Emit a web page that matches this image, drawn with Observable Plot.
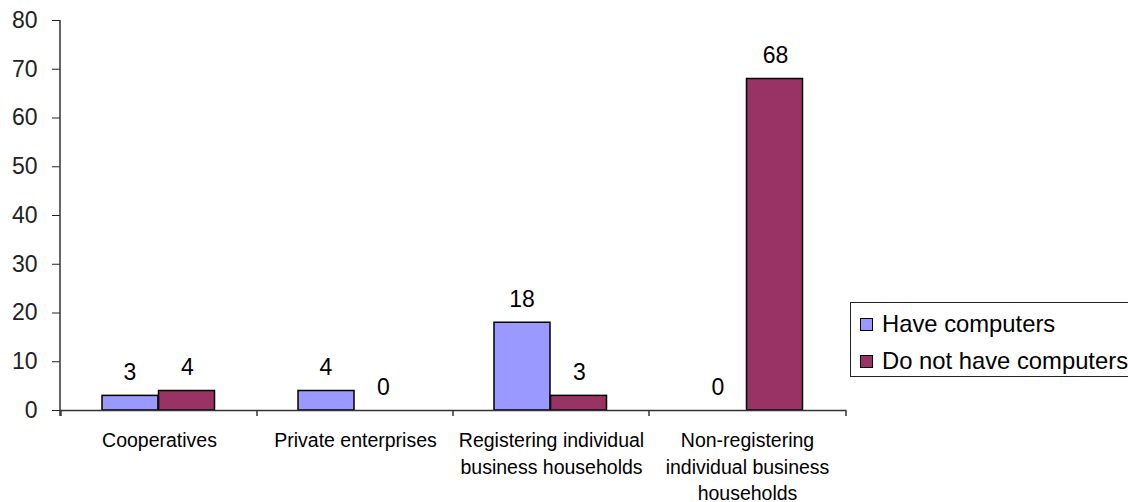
<!DOCTYPE html>
<html><head><meta charset="utf-8">
<script src="https://cdn.jsdelivr.net/npm/d3@7"></script>
<script src="https://cdn.jsdelivr.net/npm/@observablehq/plot@0.6"></script>
<style>
html,body{margin:0;padding:0;background:#fff;overflow:hidden}
#wrap{position:relative;width:1128px;height:502px;font-family:"Liberation Sans",Arial,sans-serif}
#legend{position:absolute;left:850px;top:302px;width:300px;height:75px;border:1.5px solid #222;box-sizing:border-box;background:#fff;font-size:23.8px;color:#000}
#legend .item{position:absolute;left:9px;display:flex;align-items:center;white-space:nowrap}
#legend .sw{width:13px;height:13px;border:1px solid #000;margin-right:9px;box-sizing:border-box}
</style></head>
<body><div id="wrap"></div>
<script>
const categories = ["Cooperatives", "Private enterprises", "Registering individual\nbusiness households", "Non-registering\nindividual business\nhouseholds"];
const seriesNames = ["Have computers", "Do not have computers"];
const haveComputers = [3, 4, 18, 0];
const noComputers = [4, 0, 3, 68];
const yTicks = [0, 10, 20, 30, 40, 50, 60, 70, 80];
const colors = ["#9999FF", "#993366"];

const rows = categories.flatMap((c, i) => [
  {cat: c, series: seriesNames[0], value: haveComputers[i]},
  {cat: c, series: seriesNames[1], value: noComputers[i]}
]);
const s0 = rows.filter(d => d.series === seriesNames[0]);
const s1 = rows.filter(d => d.series === seriesNames[1]);

const axisLines = (index, scales, values, dims) => {
  const g = d3.create("svg:g").attr("stroke", "#333").attr("stroke-width", 1.5);
  const y0 = scales.y(0), yTop = scales.y(80);
  const xl = dims.marginLeft, xr = dims.width - dims.marginRight;
  g.append("line").attr("x1", xl).attr("x2", xl).attr("y1", yTop).attr("y2", y0 + 6);
  const bounds = categories.map(c => scales.x(c)).concat([xr]);
  for (const bx of bounds) {
    g.append("line").attr("x1", bx).attr("x2", bx).attr("y1", y0).attr("y2", y0 + 6);
  }
  return g.node();
};

const chart = Plot.plot({
  width: 1128,
  height: 502,
  marginLeft: 60,
  marginRight: 282,
  marginTop: 20,
  marginBottom: 92,
  style: {fontFamily: "'Liberation Sans', Arial, sans-serif", fontSize: "23px", color: "#222", background: "#fff"},
  x: {domain: categories, padding: 0, axis: null},
  y: {domain: [0, 80], ticks: yTicks, tickSize: 8, tickPadding: 15, label: null, tickFormat: d => String(d)},
  marks: [
    Plot.barY(s0, {x: "cat", y: "value", fill: colors[0], stroke: "#000", strokeWidth: 1.5, insetLeft: 41, insetRight: 99}),
    Plot.barY(s1, {x: "cat", y: "value", fill: colors[1], stroke: "#000", strokeWidth: 1.5, insetLeft: 97.5, insetRight: 42.5}),
    Plot.ruleY([0], {stroke: "#333", strokeWidth: 1.5}),
    axisLines,
    Plot.text(s0, {x: "cat", y: "value", text: d => String(d.value), dx: -29.5, dy: -23, fontSize: 23, fill: "#000"}),
    Plot.text(s1, {x: "cat", y: "value", text: d => String(d.value), dx: 28, dy: -23, fontSize: 23, fill: "#000"}),
    Plot.text(categories, {x: d => d, y: () => 0, text: d => d, dy: 18, lineAnchor: "top", lineHeight: 1.35, fontSize: 19.5, fill: "#000"})
  ]
});

const wrap = document.getElementById("wrap");
wrap.appendChild(chart);
const legend = document.createElement("div");
legend.id = "legend";
seriesNames.forEach((name, i) => {
  const item = document.createElement("div");
  item.className = "item";
  item.style.top = (i === 0 ? 7 : 44) + "px";
  const sw = document.createElement("div");
  sw.className = "sw";
  sw.style.background = colors[i];
  item.appendChild(sw);
  const t = document.createElement("span");
  t.textContent = name;
  item.appendChild(t);
  legend.appendChild(item);
});
wrap.appendChild(legend);
</script>
</body></html>
